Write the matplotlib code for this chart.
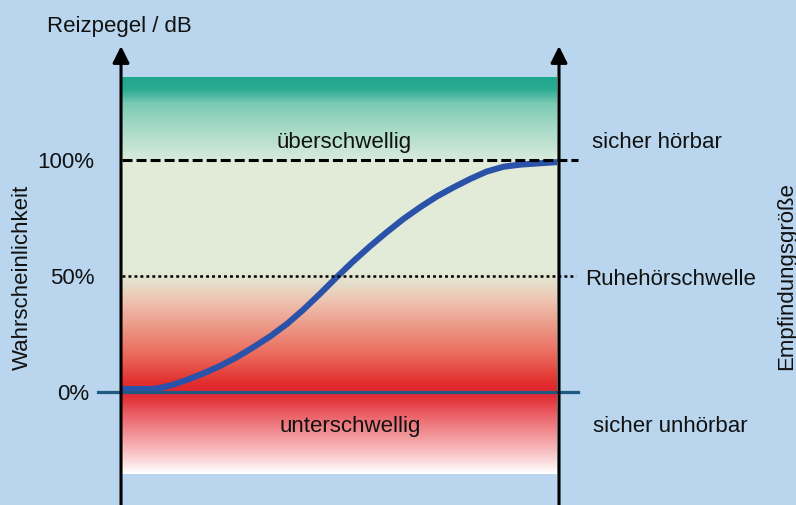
import numpy as np
import matplotlib
matplotlib.use('Agg')
import matplotlib.pyplot as plt
from matplotlib.colors import LinearSegmentedColormap

plt.rcParams['font.family'] = ['Liberation Sans', 'DejaVu Sans']
plt.rcParams['lines.scale_dashes'] = False

# Reizpegel (relative units 0..100) and detection probability in %
level = [0, 7.2, 9.5, 11.8, 14.9, 18.7, 22.5, 26.4, 30.2, 34.0, 37.9, 41.7, 45.5, 49.4,
         53.2, 57.0, 60.8, 64.7, 68.5, 72.3, 76.2, 80.0, 83.8, 87.7, 91.5, 95.3, 100]
prob = [1.3, 1.3, 2.0, 3.2, 5.2, 8.0, 11.2, 15.0, 19.3, 23.9, 29.3, 35.5, 42.3, 49.6,
        56.4, 62.8, 68.8, 74.6, 79.6, 84.2, 88.2, 91.8, 95.0, 97.1, 98.0, 98.5, 99.1]

tick_values = [100, 50, 0]
tick_labels = ['100%', '50%', '0%']

# background gradient: stops (in %) and colours, bottom to top
grad_stops = [-35.3, -30, -22, -12, -3, 0, 4, 16, 27, 38, 46, 52, 100, 101, 109, 118, 125, 131, 135.8]
grad_colors = ['#ffffff', '#fbd9da', '#f5a7aa', '#ec6c72', '#e2333a', '#e02530', '#e2302f',
               '#eb6a5c', '#ec9484', '#efbeab', '#e6dcc7', '#e3ead8', '#e2ebd9', '#d6eadb',
               '#b9e0cf', '#98d4c0', '#78c9b3', '#2aab92', '#1fa78e']

bg = '#b9d6ee'
fig = plt.figure(figsize=(7.96, 5.06), dpi=100, facecolor=bg)
ax = fig.add_axes([0, 0, 1, 1])
ax.set_facecolor(bg)
ax.set_xlim(-28.05, 154.94)
ax.set_ylim(-48.71, 169.40)
ax.axis('off')

lo, hi = grad_stops[0], grad_stops[-1]
cmap = LinearSegmentedColormap.from_list(
    'reiz', [((s - lo) / (hi - lo), c) for s, c in zip(grad_stops, grad_colors)])
ax.imshow(np.linspace(0, 1, 600)[:, None], cmap=cmap, origin='lower',
          extent=[0, 100, lo, hi], aspect='auto', interpolation='bilinear', zorder=1)

# sigmoid curve
ax.plot(level, prob, color='#2a52a8', lw=4.4, solid_capstyle='butt',
        solid_joinstyle='round', zorder=3)

# reference lines
ax.plot([0, 104.8], [100, 100], color='black', lw=2.2, dashes=(7.2, 2.9), zorder=4)
ax.plot([0, 104.4], [50, 50], color='black', lw=1.8, dashes=(2.1, 2.2), zorder=4)
ax.plot([-5.5, 104.8], [0, 0], color='#1f5a85', lw=2.3, zorder=4)

# axes with arrows
for xa in (-0.23, 100.46):
    ax.annotate('', xy=(xa, 149.1), xytext=(xa, -50),
                arrowprops=dict(arrowstyle='-|>,head_length=0.5,head_width=0.25',
                                mutation_scale=20, lw=2.2, color='black',
                                shrinkA=0, shrinkB=0), zorder=5)

fs = 16
tc = '#111111'
for v, lab in zip(tick_values, tick_labels):
    xr = -7.59 if v == 0 else -6.3
    ax.text(xr, v - 3.2, lab, ha='right', va='baseline', fontsize=fs, color=tc)

ax.text(-17.24, 155.6, 'Reizpegel / dB', ha='left', va='baseline', fontsize=fs, color=tc)
ax.text(-21.6, 50, 'Wahrscheinlichkeit', rotation=90, rotation_mode='anchor',
        ha='center', va='baseline', fontsize=fs, color=tc)
ax.text(154.0, 50.4, 'Empfindungsgröße', rotation=90, rotation_mode='anchor',
        ha='center', va='baseline', fontsize=fs, color=tc)

ax.text(51.0, 105.6, 'überschwellig', ha='center', va='baseline', fontsize=fs, color=tc, zorder=6)
ax.text(52.4, -16.8, 'unterschwellig', ha='center', va='baseline', fontsize=fs, color=tc, zorder=6)

ax.text(108.0, 105.6, 'sicher hörbar', ha='left', va='baseline', fontsize=fs, color=tc)
ax.text(106.4, 46.55, 'Ruhehörschwelle', ha='left', va='baseline', fontsize=fs, color=tc)
ax.text(108.2, -16.7, 'sicher unhörbar', ha='left', va='baseline', fontsize=fs, color=tc)

fig.savefig('out.png', dpi=100, facecolor=bg)
